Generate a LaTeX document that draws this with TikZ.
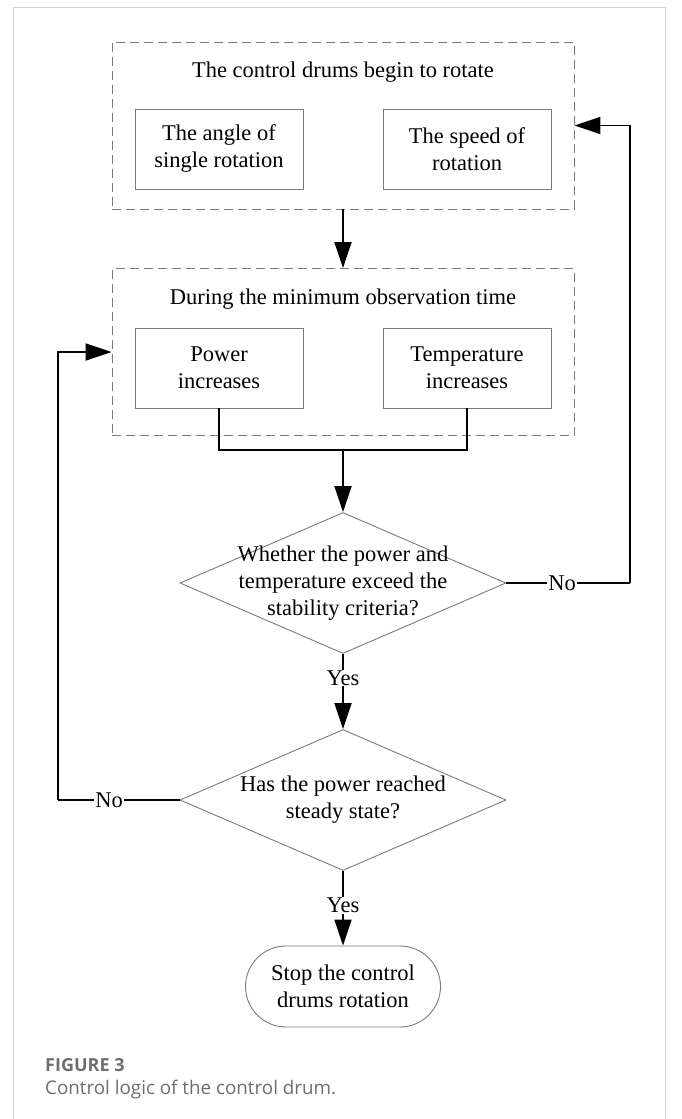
\documentclass[tikz,border=0pt]{standalone}
\usepackage{fontspec}
\setmainfont{Liberation Serif}
\newfontfamily\capfont{Open Sans}
\usetikzlibrary{arrows.meta,shapes.geometric,shapes.misc}
\definecolor{boxgray}{HTML}{7A7A7A}
\definecolor{framegray}{HTML}{D4D4D4}
\definecolor{capgray}{HTML}{6E6E6E}
\begin{document}
\begin{tikzpicture}[x=1pt,y=-1pt,
  txt/.style={font=\fontsize{22.5}{27}\selectfont, align=center, text=black},
  group/.style={draw=boxgray, dash pattern=on 9pt off 5pt, line width=0.9pt,
    minimum width=462pt, minimum height=167pt, inner sep=0pt},
  stepbox/.style={txt, draw=boxgray, line width=0.9pt, minimum width=168pt,
    minimum height=80pt, inner sep=2pt},
  decision/.style={diamond, draw=boxgray, line width=0.9pt, minimum width=326pt,
    minimum height=141pt, inner sep=0pt},
  terminal/.style={txt, rounded rectangle, draw=boxgray, line width=0.9pt,
    minimum width=199pt, minimum height=81pt, inner sep=2pt},
  conn/.style={draw=black, line width=1.8pt},
  arr/.style={conn, -{Triangle[length=26pt,width=17pt]}},
  lab/.style={txt, fill=white, inner sep=1pt}]
\useasboundingbox (0,0) rectangle (682,1119);
% page frame
\draw[framegray, line width=1pt] (13,7) -- (665,7) (13,7) -- (13,1130) (665,7) -- (665,1130);

% first group: rotation settings
\node[group] (g1) at (343,125.5) {};
\node[txt] (t1) at (343,72) {The control drums begin to rotate};
\node[stepbox] (a1) at (219,149) {The angle of\\single rotation};
\node[stepbox] (a2) at (467,149) {The speed of\\rotation};

% second group: observation window
\node[group] (g2) at (343,352) {};
\node[txt] (t2) at (343,299) {During the minimum observation time};
\node[stepbox] (b1) at (219,368) {Power\\increases};
\node[stepbox] (b2) at (467,368) {Temperature\\increases};
\coordinate (j) at (343,450);

% decisions
\node[decision] (d1) at (343,583) {};
\node[txt] (d1t) at (343,583) {Whether the power and\\temperature exceed the\\stability criteria?};
\node[decision] (d2) at (343,800) {};
\node[txt] (d2t) at (343,800) {Has the power reached\\steady state?};
\node[terminal] (stop) at (343,986.5) {Stop the control\\drums rotation};

\coordinate (r) at (630,583);
\coordinate (l) at (58,800);

% connectors
\draw[arr] (g1.south) -- (g2.north);
\draw[conn] (b1.south) -- (b1.south |- j) -- (b2.south |- j) -- (b2.south);
\draw[arr] (j) -- (d1.north);
\draw[conn] (d1.east) -- node[lab, pos=0.45] {No} (r);
\draw[arr] (r) |- (g1.east);
\draw[arr] (d1.south) -- node[lab, pos=0.32] {Yes} (d2.north);
\draw[conn] (d2.west) -- node[lab, pos=0.58] {No} (l);
\draw[arr] (l) |- (g2.west);
\draw[arr] (d2.south) -- node[lab, pos=0.46] {Yes} (stop.north);

% caption
\node[anchor=west, inner sep=0pt, font=\capfont\bfseries\fontsize{18}{22}\selectfont, text=capgray] (fig) at (45,1065) {FIGURE 3};
\node[anchor=west, inner sep=0pt, font=\capfont\fontsize{18.8}{23}\selectfont, text=capgray] (cap) at (45,1090) {Control logic of the control drum.};
\end{tikzpicture}
\end{document}
